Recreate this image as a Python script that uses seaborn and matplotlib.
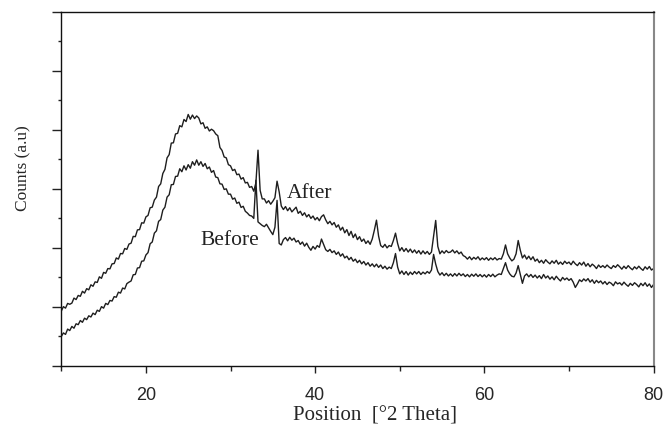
import numpy as np
import pandas as pd
import matplotlib
matplotlib.use("Agg")
import matplotlib.pyplot as plt
import seaborn as sns

# scan: 10 -> 80 deg 2theta, 0.25 deg step
scan_start = 10.0
scan_step = 0.25

after_counts = [
    1.86, 2.01, 1.96, 2.12, 2.09, 2.13, 2.30, 2.25,
    2.39, 2.36, 2.53, 2.47, 2.62, 2.58, 2.75, 2.70,
    2.85, 2.83, 3.02, 2.97, 3.17, 3.14, 3.30, 3.29,
    3.46, 3.47, 3.66, 3.62, 3.81, 3.80, 3.98, 3.95,
    4.13, 4.16, 4.39, 4.38, 4.61, 4.62, 4.85, 4.84,
    5.05, 5.10, 5.36, 5.38, 5.62, 5.72, 6.08, 6.17,
    6.52, 6.66, 7.05, 7.16, 7.55, 7.56, 7.86, 7.88,
    8.14, 8.10, 8.35, 8.28, 8.52, 8.36, 8.50, 8.38,
    8.47, 8.40, 8.20, 8.24, 8.05, 8.10, 7.96, 8.02,
    7.97, 7.86, 7.80, 7.40, 7.30, 7.08, 7.05, 6.82,
    6.78, 6.62, 6.66, 6.48, 6.50, 6.33, 6.38, 6.20,
    6.22, 6.05, 6.08, 5.92, 6.20, 7.31, 5.95, 5.66,
    5.66, 5.52, 5.60, 5.48, 5.58, 5.70, 6.26, 5.90,
    5.42, 5.30, 5.40, 5.26, 5.36, 5.22, 5.30, 5.38,
    5.17, 5.24, 5.10, 5.19, 5.05, 5.13, 5.00, 5.08,
    4.95, 5.03, 4.92, 5.06, 5.12, 4.95, 4.82, 4.90,
    4.78, 4.86, 4.70, 4.78, 4.60, 4.70, 4.51, 4.62,
    4.42, 4.56, 4.35, 4.47, 4.28, 4.38, 4.22, 4.30,
    4.15, 4.24, 4.12, 4.30, 4.60, 4.94, 4.40, 4.08,
    4.02, 4.12, 4.00, 4.08, 4.05, 4.25, 4.50, 4.15,
    3.90, 4.01, 3.88, 3.98, 3.86, 3.96, 3.84, 3.93,
    3.82, 3.91, 3.79, 3.90, 3.80, 3.88, 3.78, 3.86,
    4.40, 4.93, 4.05, 3.80, 3.90, 3.82, 3.91, 3.84,
    3.86, 3.93, 3.83, 3.90, 3.80, 3.86, 3.74, 3.70,
    3.62, 3.70, 3.60, 3.68, 3.62, 3.70, 3.59, 3.66,
    3.60, 3.67, 3.58, 3.66, 3.60, 3.67, 3.59, 3.64,
    3.62, 3.80, 4.10, 3.80, 3.66, 3.56, 3.62, 3.80,
    4.25, 3.92, 3.66, 3.76, 3.62, 3.72, 3.60, 3.70,
    3.55, 3.62, 3.50, 3.58, 3.48, 3.60, 3.52, 3.46,
    3.56, 3.48, 3.58, 3.45, 3.52, 3.44, 3.55, 3.47,
    3.52, 3.43, 3.55, 3.46, 3.40, 3.50, 3.42, 3.52,
    3.38, 3.47, 3.36, 3.45, 3.39, 3.30, 3.42, 3.34,
    3.40, 3.33, 3.42, 3.35, 3.30, 3.40, 3.34, 3.43,
    3.36, 3.28, 3.38, 3.30, 3.40, 3.32, 3.26, 3.36,
    3.29, 3.38, 3.30, 3.24, 3.36, 3.28, 3.37, 3.25,
    3.30,
]

before_counts = [
    1.00, 1.12, 1.07, 1.25, 1.20, 1.34, 1.28, 1.43,
    1.40, 1.54, 1.48, 1.62, 1.57, 1.70, 1.66, 1.79,
    1.74, 1.89, 1.85, 2.01, 1.96, 2.12, 2.08, 2.22,
    2.20, 2.35, 2.33, 2.50, 2.47, 2.64, 2.61, 2.79,
    2.84, 2.88, 3.09, 3.10, 3.32, 3.33, 3.55, 3.56,
    3.76, 3.84, 4.14, 4.20, 4.50, 4.58, 4.90, 4.96,
    5.28, 5.38, 5.72, 5.80, 6.14, 6.15, 6.42, 6.43,
    6.68, 6.58, 6.78, 6.64, 6.82, 6.70, 6.92, 6.80,
    6.98, 6.80, 6.92, 6.76, 6.86, 6.68, 6.74, 6.56,
    6.62, 6.40, 6.38, 6.17, 6.16, 5.98, 6.00, 5.82,
    5.82, 5.65, 5.69, 5.51, 5.55, 5.37, 5.41, 5.24,
    5.18, 5.10, 5.08, 5.00, 6.29, 4.88, 4.82, 4.76,
    4.72, 4.80, 4.68, 4.56, 4.45, 4.70, 5.61, 4.15,
    4.10, 4.28, 4.35, 4.24, 4.36, 4.26, 4.33, 4.20,
    4.25, 4.12, 4.20, 4.06, 4.16, 4.02, 3.92, 4.05,
    3.96, 4.08, 4.02, 4.30, 4.12, 3.94, 3.88, 3.95,
    3.84, 3.90, 3.78, 3.86, 3.72, 3.80, 3.66, 3.72,
    3.60, 3.68, 3.55, 3.62, 3.50, 3.58, 3.46, 3.54,
    3.42, 3.50, 3.38, 3.46, 3.36, 3.45, 3.34, 3.42,
    3.30, 3.38, 3.28, 3.35, 3.30, 3.50, 3.81, 3.35,
    3.12, 3.22, 3.10, 3.20, 3.08, 3.18, 3.10, 3.20,
    3.12, 3.20, 3.10, 3.18, 3.12, 3.20, 3.14, 3.25,
    3.78, 3.45, 3.20, 3.08, 3.16, 3.06, 3.14, 3.05,
    3.12, 3.04, 3.13, 3.05, 3.14, 3.06, 3.12, 3.03,
    3.10, 3.02, 3.11, 3.04, 3.12, 3.03, 3.10, 3.02,
    3.09, 3.01, 3.10, 3.03, 3.11, 3.02, 3.08, 3.12,
    3.10, 3.30, 3.50, 3.25, 3.12, 3.04, 3.02, 3.15,
    3.40, 3.10, 2.80, 3.05, 3.12, 3.02, 3.10, 3.00,
    3.08, 2.98, 3.06, 2.96, 3.10, 2.98, 3.05, 2.94,
    3.02, 2.92, 3.04, 2.95, 2.88, 3.00, 2.92, 2.98,
    2.90, 2.96, 2.84, 2.66, 2.78, 2.92, 2.86, 2.95,
    2.88, 2.96, 2.84, 2.92, 2.80, 2.90, 2.82, 2.88,
    2.78, 2.86, 2.76, 2.84, 2.80, 2.72, 2.85, 2.78,
    2.82, 2.74, 2.84, 2.76, 2.70, 2.80, 2.73, 2.82,
    2.76, 2.68, 2.80, 2.72, 2.82, 2.70, 2.78, 2.66,
    2.76,
]

two_theta = scan_start + scan_step * np.arange(len(after_counts))

df = pd.DataFrame({
    "two_theta": np.concatenate([two_theta, two_theta]),
    "counts": after_counts + before_counts,
    "sample": ["After"] * len(after_counts) + ["Before"] * len(before_counts),
})

sns.set_style("ticks")
plt.rcParams["font.family"] = ["Liberation Sans", "DejaVu Sans"]
serif = ["Liberation Serif", "DejaVu Serif"]

fig = plt.figure(figsize=(6.64, 4.31), dpi=100)
ax = fig.add_axes([0.0923, 0.1485, 0.892, 0.822])

sns.lineplot(data=df, x="two_theta", y="counts", hue="sample",
             palette={"After": "#1e1e1e", "Before": "#1e1e1e"},
             estimator=None, sort=False, linewidth=1.0, legend=False, ax=ax)

ax.set_xlim(10, 80)
ax.set_ylim(0, 12)
ax.set_xticks([20, 40, 60, 80])
ax.set_xticks([10, 30, 50, 70], minor=True)
ax.set_yticks(range(0, 13, 2))
ax.set_yticks(range(1, 12, 2), minor=True)
ax.set_yticklabels([])
ax.tick_params(axis="x", which="major", direction="out", length=5.2, width=1,
               labelsize=13, pad=9, color="#222222")
ax.tick_params(axis="x", which="minor", direction="out", length=3.4, width=1,
               color="#222222")
ax.tick_params(axis="y", which="major", direction="out", length=6.5, width=1,
               color="#222222")
ax.tick_params(axis="y", which="minor", direction="out", length=2.5, width=1,
               color="#222222")

for side in ["left", "bottom", "top"]:
    ax.spines[side].set_visible(True)
    ax.spines[side].set_color("#111111")
    ax.spines[side].set_linewidth(1.0)
ax.spines["right"].set_visible(True)
ax.spines["right"].set_color("#888888")
ax.spines["right"].set_linewidth(1.5)

ax.set_xlabel("Position  [°2 Theta]", fontsize=15, family=serif)
ax.set_ylabel("Counts (a.u)", fontsize=12.5, family=serif)
ax.xaxis.set_label_coords(0.53, -0.112)
ax.yaxis.set_label_coords(-0.05, 0.561)

ax.text(36.6, 5.72, "After", fontsize=15.5, family=serif, color="#222222",
        ha="left", va="baseline")
ax.text(26.4, 4.14, "Before", fontsize=15.5, family=serif, color="#222222",
        ha="left", va="baseline")

fig.savefig("out.png", dpi=100)
